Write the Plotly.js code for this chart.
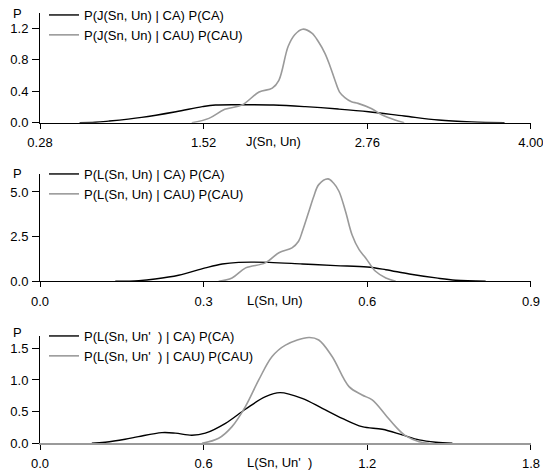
<!DOCTYPE html>
<html>
<head>
<meta charset="utf-8">
<script src="https://cdn.plot.ly/plotly-3.0.1.min.js"></script>
<style>html,body{margin:0;padding:0;background:#fff;}#chart{width:543px;height:472px;}</style>
</head>
<body>
<div id="chart"></div>
<script>
// Panel 1: J(Sn, Un)
var jX_CA  = [0.58, 0.70, 0.80, 1.05, 1.31, 1.51, 1.61, 1.81, 2.05, 2.29, 2.54, 2.77, 3.04, 3.30, 3.55, 3.80];
var jY_CA  = [0, 0.005, 0.02, 0.068, 0.14, 0.204, 0.225, 0.229, 0.225, 0.204, 0.174, 0.14, 0.085, 0.034, 0.01, 0];
var jX_CAU = [1.43, 1.56, 1.68, 1.81, 1.94, 2.04, 2.09, 2.16, 2.21, 2.27, 2.34, 2.39, 2.44, 2.48, 2.515, 2.55, 2.59, 2.64, 2.69, 2.79, 2.87, 2.97, 3.04];
var jY_CAU = [0, 0.055, 0.17, 0.225, 0.39, 0.44, 0.54, 0.97, 1.12, 1.19, 1.14, 1.03, 0.88, 0.71, 0.54, 0.39, 0.32, 0.267, 0.246, 0.18, 0.10, 0.034, 0];
// Panel 2: L(Sn, Un)
var lX_CA  = [0.138, 0.181, 0.211, 0.254, 0.303, 0.334, 0.364, 0.42, 0.481, 0.542, 0.60, 0.634, 0.677, 0.726, 0.762, 0.817];
var lY_CA  = [0, 0.04, 0.13, 0.34, 0.75, 0.97, 1.06, 1.06, 0.97, 0.88, 0.80, 0.65, 0.41, 0.19, 0.06, 0];
var lX_CAU = [0.3275, 0.352, 0.377, 0.413, 0.438, 0.462, 0.474, 0.481, 0.493, 0.502, 0.511, 0.528, 0.538, 0.548, 0.56, 0.572, 0.585, 0.597, 0.615, 0.634, 0.652];
var lY_CAU = [0, 0.19, 0.75, 1.03, 1.60, 1.87, 2.24, 2.8, 3.92, 4.76, 5.41, 5.73, 5.5, 5.04, 3.92, 2.61, 1.77, 1.31, 0.56, 0.19, 0];
// Panel 3: L(Sn, Un')
var mX_CA  = [0.19, 0.239, 0.312, 0.361, 0.447, 0.496, 0.557, 0.606, 0.68, 0.753, 0.827, 0.88, 0.961, 1.035, 1.108, 1.181, 1.255, 1.328, 1.39, 1.451, 1.512];
var mY_CA  = [0, 0.016, 0.063, 0.105, 0.168, 0.16, 0.127, 0.16, 0.316, 0.537, 0.737, 0.80, 0.71, 0.553, 0.395, 0.263, 0.221, 0.132, 0.053, 0.016, 0];
var mX_CAU = [0.594, 0.655, 0.704, 0.753, 0.802, 0.851, 0.9, 0.986, 1.022, 1.071, 1.133, 1.181, 1.218, 1.267, 1.304, 1.341, 1.39, 1.426];
var mY_CAU = [0, 0.079, 0.263, 0.579, 1.0, 1.37, 1.55, 1.67, 1.63, 1.37, 0.895, 0.763, 0.684, 0.447, 0.263, 0.116, 0.026, 0];

var names = [
  ["P(J(Sn, Un) | CA) P(CA)", "P(J(Sn, Un) | CAU) P(CAU)"],
  ["P(L(Sn, Un) | CA) P(CA)", "P(L(Sn, Un) | CAU) P(CAU)"],
  ["P(L(Sn, Un'\u00a0\u00a0) | CA) P(CA)", "P(L(Sn, Un'\u00a0\u00a0) | CAU) P(CAU)"]
];
var xTitles = ["J(Sn, Un)", "L(Sn, Un)", "L(Sn, Un'\u00a0\u00a0)"];
var xTicks = [[0.28, 1.52, 2.76, 4.00], [0.0, 0.3, 0.6, 0.9], [0.0, 0.6, 1.2, 1.8]];
var xTickText = [["0.28", "1.52", "2.76", "4.00"], ["0.0", "0.3", "0.6", "0.9"], ["0.0", "0.6", "1.2", "1.8"]];
var yTicks = [[0, 0.4, 0.8, 1.2], [0, 2.5, 5.0], [0, 0.5, 1.0, 1.5]];
var yTickText = [["0.0", "0.4", "0.8", "1.2"], ["0.0", "2.5", "5.0"], ["0.0", "0.5", "1.0", "1.5"]];
var xRanges = [[0.28, 4.0005], [0, 0.9001], [0, 1.8002]];
var yRanges = [[0, 1.4], [0, 6.0], [0, 1.7]];

var W = 543, H = 472, L = 40, R = 12;
var BLACK = "#000000", GRAY = "#9a9a9a";
var FONT = {family: "Liberation Sans, Arial, sans-serif", size: 13, color: "#000"};

// pixel layout of each panel: [zero-line y, top y]
var panelPx = [[122.7, 12.7], [281.3, 174.1], [443.3, 335.6]];
function py(p) { return 1 - p / H; }
function px(p) { return (p - L) / (W - L - R); }

var series = [[jX_CA, jY_CA, jX_CAU, jY_CAU], [lX_CA, lY_CA, lX_CAU, lY_CAU], [mX_CA, mY_CA, mX_CAU, mY_CAU]];
var data = [];
var layout = {
  width: W, height: H, autosize: false,
  margin: {l: L, r: R, t: 0, b: 0, pad: 0},
  paper_bgcolor: "#fff", plot_bgcolor: "#fff",
  font: FONT, showlegend: true,
  annotations: []
};
var legendTops = [0, 159, 321];
var titleX = [273, 275, 279];
var pY = [13, 173, 332];

for (var i = 0; i < 3; i++) {
  var s = i === 0 ? "" : String(i + 1);
  var lg = "legend" + s;
  data.push({x: series[i][0], y: series[i][1], type: "scatter", mode: "lines", name: names[i][0],
    line: {color: BLACK, width: 1.4, shape: "spline", smoothing: 1}, xaxis: "x" + s, yaxis: "y" + s,
    legend: lg, legendgroup: "a" + i, hoverinfo: "skip"});
  data.push({x: series[i][2], y: series[i][3], type: "scatter", mode: "lines", name: names[i][1],
    line: {color: GRAY, width: 1.6, shape: "spline", smoothing: 1}, xaxis: "x" + s, yaxis: "y" + s,
    legend: lg, legendgroup: "b" + i, hoverinfo: "skip"});
  layout["xaxis" + s] = {
    domain: [0, 1], anchor: "y" + s, range: xRanges[i], tickmode: "array",
    tickvals: xTicks[i], ticktext: xTickText[i], showgrid: false, zeroline: false,
    showline: true, linecolor: i === 2 ? GRAY : BLACK, linewidth: i === 2 ? 1.5 : 1,
    ticks: "outside", ticklen: 5, tickcolor: BLACK, tickwidth: 1,
    ticklabelstandoff: 3, ticklabeloverflow: "allow", tickfont: FONT, fixedrange: true
  };
  layout["yaxis" + s] = {
    domain: [py(panelPx[i][0]), py(panelPx[i][1])], anchor: "x" + s, range: yRanges[i],
    tickmode: "array", tickvals: yTicks[i], ticktext: yTickText[i], showgrid: false, zeroline: false,
    showline: true, linecolor: BLACK, linewidth: 1, ticks: "outside", ticklen: 7, tickcolor: BLACK,
    ticklabelstandoff: 1, tickfont: FONT, fixedrange: true
  };
  layout[lg] = {
    x: px(44), xanchor: "left", xref: "paper", y: py(legendTops[i]), yanchor: "top", yref: "paper",
    bgcolor: "rgba(0,0,0,0)", borderwidth: 0, font: FONT, traceorder: "grouped", tracegroupgap: 0,
    itemwidth: 30
  };
  layout.annotations.push({text: "P", xref: "paper", yref: "paper", x: px(17.5), y: py(pY[i]),
    xanchor: "center", yanchor: "middle", showarrow: false, font: FONT});
  layout.annotations.push({text: xTitles[i], xref: "paper", yref: "paper", x: px(titleX[i]), y: py(panelPx[i][0] + 19),
    xanchor: "center", yanchor: "middle", showarrow: false, font: FONT});
}

Plotly.newPlot("chart", data, layout, {staticPlot: true, displayModeBar: false});
</script>
</body>
</html>
